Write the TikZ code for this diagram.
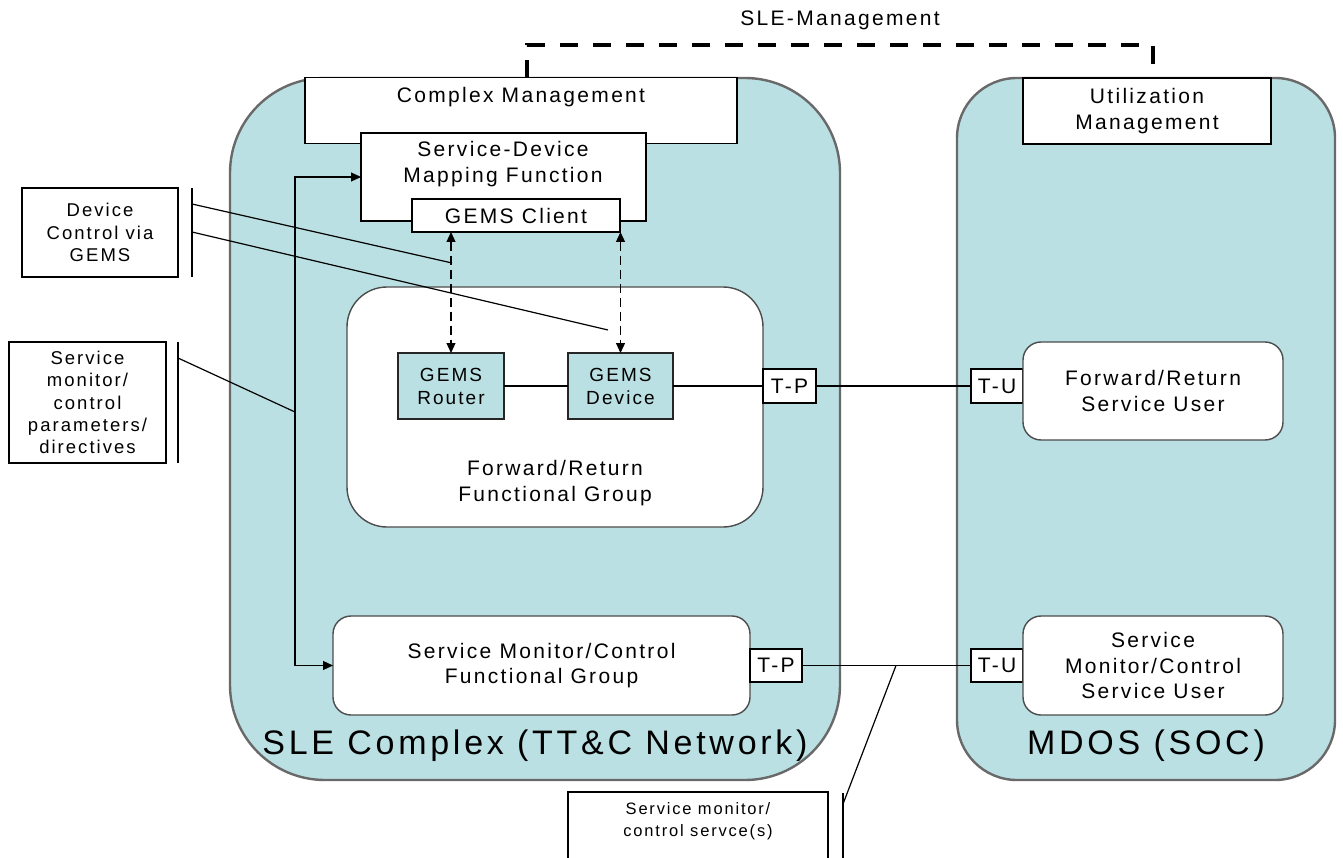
\documentclass[tikz,border=0pt]{standalone}
\usepackage{fontspec}
\setmainfont{Liberation Sans}[LetterSpace=11]
\usetikzlibrary{arrows.meta}
\definecolor{tealfill}{RGB}{186,224,227}
\definecolor{edgegray}{RGB}{105,105,105}
\begin{document}
\begin{tikzpicture}[x=1pt,y=-1pt,
  every node/.style={inner sep=0pt, outer sep=0pt},
  region/.style={draw=edgegray, line width=2.4pt, fill=tealfill},
  wbox/.style={draw=black!70, line width=1.4pt, fill=white, align=center, font=\fontsize{21}{25.5}\selectfont},
  sqbox/.style={draw=black, line width=1.1pt, fill=white, align=center, font=\fontsize{21}{25.5}\selectfont},
  gbox/.style={draw=black!85, line width=1.2pt, fill=tealfill, align=center, font=\fontsize{19}{23}\selectfont},
  lbl/.style={align=center, font=\fontsize{21}{25.5}\selectfont},
  callout/.style={draw=black, line width=1.1pt, fill=white, align=center, font=\fontsize{18.5}{22.3}\selectfont},
  conn/.style={draw=black, line width=1.2pt},
  arr/.style={conn, -{Triangle[length=10pt,width=9pt]}},
  dasharr/.style={conn, dash pattern=on 9pt off 5pt, {Triangle[length=10pt,width=9pt]}-{Triangle[length=10pt,width=9pt]}},
  mgmt/.style={draw=black, line width=3.5pt, dash pattern=on 18pt off 15pt},
  big/.style={font=\fontsize{34}{38}\selectfont}
]
\useasboundingbox (0,0) rectangle (1343,858);
\fill[white] (0,0) rectangle (1343,858);

% regions
\node[region, rounded corners=95pt, minimum width=610pt, minimum height=702pt] (sle) at (535,429) {};
\node[region, rounded corners=60pt, minimum width=378pt, minimum height=702pt] (mdos) at (1146,429) {};

% management
\node[sqbox, minimum width=432pt, minimum height=66pt] (cm) at (521,110.5) {};
\node[lbl] (cmt) at (521,97) {Complex Management};
\node[sqbox, minimum width=248pt, minimum height=66pt] (um) at (1147,111) {Utilization\\Management};
\coordinate (m1) at (527,78);
\coordinate (m2) at (527,45);
\coordinate (m3) at (1153,45);
\coordinate (m4) at (1153,78);
\draw[mgmt] (m1) -- (m2) -- (m3) -- (m4);
\node[lbl] (mgmtl) at (840,20) {SLE-Management};

% service-device mapping
\node[sqbox, minimum width=285pt, minimum height=88pt] (sdm) at (503.5,177) {};
\node[lbl] (sdmt) at (503,164) {Service-Device\\Mapping Function};
\node[sqbox, minimum width=208pt, minimum height=33pt] (client) at (516,215.5) {GEMS Client};

% forward/return group
\node[wbox, rounded corners=40pt, minimum width=416pt, minimum height=240pt] (frg) at (555,407) {};
\node[lbl] (frgt) at (555,483) {Forward/Return\\Functional Group};
\node[gbox, minimum width=106pt, minimum height=66pt] (router) at (451,386) {GEMS\\Router};
\node[gbox, minimum width=105pt, minimum height=66pt] (device) at (620.5,386) {GEMS\\Device};
\node[sqbox, minimum width=53pt, minimum height=34pt] (tp1) at (789.5,386) {T-P};
\node[sqbox, minimum width=52pt, minimum height=34pt] (tu1) at (997,386) {T-U};
\node[wbox, rounded corners=18pt, minimum width=260pt, minimum height=98pt] (fru) at (1153,391) {Forward/Return\\Service User};

% service monitor/control
\node[wbox, rounded corners=18pt, minimum width=417pt, minimum height=99pt] (smc) at (541.5,665.5) {Service Monitor/Control\\Functional Group};
\node[sqbox, minimum width=52pt, minimum height=33pt] (tp2) at (776,665.5) {T-P};
\node[sqbox, minimum width=52pt, minimum height=33pt] (tu2) at (997,665.5) {T-U};
\node[wbox, rounded corners=18pt, minimum width=260pt, minimum height=99pt] (smu) at (1153,665.5) {Service\\Monitor/Control\\Service User};

% big labels
\node[big] (slel) at (535,746) {SLE Complex (TT\&C Network)};
\node[big] (mdosl) at (1146,746) {MDOS (SOC)};

% connectors
\draw[conn] (router) -- (device);
\draw[conn] (device) -- (tp1);
\draw[conn] (tp1) -- (tu1);
\draw[conn] (tp2) -- (tu2);
\draw[dasharr] (router.north |- client.south) -- (router.north);
\draw[dasharr] (device.north |- client.south) -- (device.north);
\coordinate (vj) at (295,412);
\draw[arr] (vj) |- (sdm.west);
\draw[arr] (vj) |- (smc.west);

% callouts
\node[callout, minimum width=156pt, minimum height=89pt] (dc) at (100,232.5) {Device\\Control via\\GEMS};
\coordinate (dcb1) at (192,188);
\coordinate (dcb2) at (192,277);
\draw[conn] (dcb1) -- (dcb2);
\coordinate (dca) at (192,204);
\coordinate (dcb) at (192,232);
\coordinate (dct1) at (452,263);
\coordinate (dct2) at (608,330);
\draw[conn] (dca) -- (dct1);
\draw[conn] (dcb) -- (dct2);

\node[callout, minimum width=157pt, minimum height=121pt] (smp) at (87.5,402.5) {Service\\monitor/\\control\\parameters/\\directives};
\coordinate (spb1) at (178,342);
\coordinate (spb2) at (178,463);
\draw[conn] (spb1) -- (spb2);
\coordinate (spa) at (178,358);
\draw[conn] (spa) -- (vj);

\node[callout, minimum width=260pt, minimum height=100pt] (sms) at (698,842) {};
\node[align=center, font=\fontsize{16.5}{22}\selectfont] (smst) at (698,821) {Service monitor/\\control servce(s)};
\coordinate (ssb1) at (843,793);
\coordinate (ssb2) at (843,870);
\draw[conn] (ssb1) -- (ssb2);
\coordinate (ssa) at (843,804);
\coordinate (sst) at (896,665.5);
\draw[conn] (ssa) -- (sst);
\end{tikzpicture}
\end{document}
